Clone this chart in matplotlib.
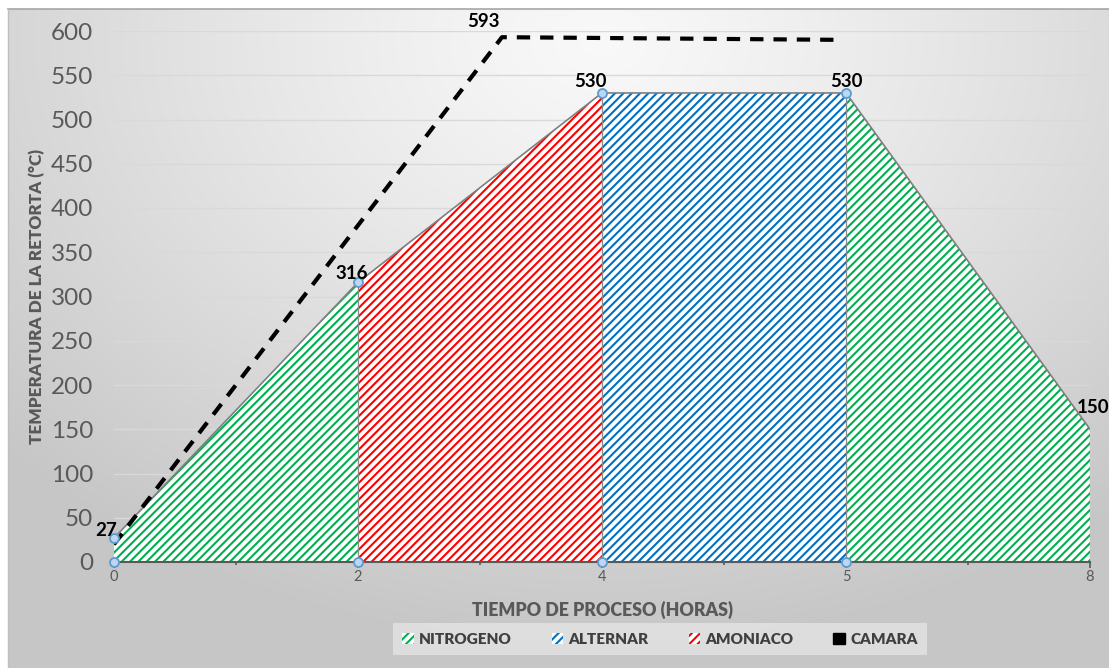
import matplotlib.pyplot as plt
import numpy as np
from matplotlib.patches import Patch

plt.rcParams['font.family'] = ['Lato', 'DejaVu Sans']
plt.rcParams['hatch.linewidth'] = 1.5

# process stages (hours on a category axis) and retort temperature
horas = ['0', '2', '4', '5', '8']
temperatura = [27, 316, 530, 530, 150]
# which stage each interval belongs to
tramos = ['NITROGENO', 'AMONIACO', 'ALTERNAR', 'NITROGENO']
colores = {'NITROGENO': '#00b050', 'ALTERNAR': '#0070c0', 'AMONIACO': '#ff0000'}

# chamber temperature (dashed), positions in category units
camara_pos = [0, 1.59, 2.975]
camara_temp = [20, 593, 590]

W, H = 1109, 668
fig = plt.figure(figsize=(W / 100, H / 100), dpi=100)

# gray radial background of the chart area
bg = fig.add_axes([0, 0, 1, 1])
yy, xx = np.mgrid[0:H, 0:W]
r = np.sqrt(((xx - 600) / 1.0) ** 2 + ((yy - 40) / 0.75) ** 2)
g = np.clip(0.975 - 0.2 * (r / 820) ** 1.2, 0.78, 0.975)
img = np.dstack([g, g, g])
img[:9, :] = 1.0
img[:, :8] = 1.0
bg.imshow(img, extent=[0, W, H, 0], aspect='auto')
bg.plot([8, W], [9, 9], color='#a6a6a6', lw=1.2)
bg.plot([8, 8], [9, H], color='#bfbfbf', lw=1.0)
bg.set_xlim(0, W)
bg.set_ylim(H, 0)
bg.axis('off')

ax = fig.add_axes([114 / W, 1 - 562 / H, (1090 - 114) / W, (562 - 31) / H])
ax.patch.set_alpha(0)
x = np.arange(len(horas))

for y in range(50, 601, 50):
    ax.axhline(y, color='#d9d9d9', lw=1.0, zorder=0)

# hatched areas per stage
for i, nombre in enumerate(tramos):
    ax.fill_between(x[i:i + 2], temperatura[i:i + 2], 0, facecolor='white',
                    edgecolor=colores[nombre], hatch='////', linewidth=0, zorder=2)

# outline of the profile
ax.plot(x, temperatura, color='#7f7f7f', lw=1.2, zorder=3)
for i in range(1, len(horas)):
    ax.plot([x[i], x[i]], [0, temperatura[i]], color='#8c8c8c', lw=0.9, zorder=3)

# chamber
ax.plot(camara_pos, camara_temp, color='black', lw=3, dashes=(3.2, 2.4), zorder=4)

# handles at the points
mk_x = [0, 0, 1, 1, 2, 2, 3, 3]
mk_y = [0, temperatura[0], 0, temperatura[1], 0, temperatura[2], 0, temperatura[3]]
ax.plot(mk_x, mk_y, 'o', ms=6.5, mfc='#bdd7ee', mec='#5b9bd5', mew=1.3, zorder=5, clip_on=False)

# data labels
lbl_off = [(-5.8, 5.8), (-4.3, 6.5), (-8, 8), (0, 8), (2.2, 16)]
for i, v in enumerate(temperatura):
    ax.annotate(str(v), (x[i], v), xytext=lbl_off[i], textcoords='offset points',
                ha='center', va='center', fontsize=13.5, fontweight='bold',
                color='black', zorder=6, annotation_clip=False)
ax.annotate(str(camara_temp[1]), (camara_pos[1], camara_temp[1]), xytext=(-13, 11),
            textcoords='offset points', ha='center', va='center', fontsize=13.5,
            fontweight='bold', color='black', annotation_clip=False)

ax.set_xlim(0, 4)
ax.set_ylim(0, 600)
ax.set_yticks(range(0, 601, 50))
ax.set_xticks(x)
ax.set_xticklabels(horas)
ax.set_xticks(x[:-1] + 0.5, minor=True)
ax.tick_params(axis='y', length=0, labelsize=17.5, labelcolor='#595959', pad=15)
ax.tick_params(axis='x', which='major', length=4, width=1.2, color='#595959',
               labelsize=10.5, labelcolor='#595959', pad=2)
ax.tick_params(axis='x', which='minor', length=4, width=1.2, color='#595959',
               direction='inout')
for s in ['top', 'right', 'left']:
    ax.spines[s].set_visible(False)
ax.spines['bottom'].set_color('#595959')
ax.spines['bottom'].set_linewidth(1.5)
ax.spines['bottom'].set_zorder(4)

ax.set_xlabel('TIEMPO DE PROCESO (HORAS)', fontsize=12.8, fontweight='heavy',
              color='#595959', labelpad=12)
ax.set_ylabel('TEMPERATURA DE LA RETORTA (°C)', fontsize=12.3, fontweight='heavy',
              color='#595959', labelpad=4)

handles = [Patch(facecolor='white', edgecolor=colores[n], hatch='////', lw=0)
           for n in ['NITROGENO', 'ALTERNAR', 'AMONIACO']]
handles.append(Patch(facecolor='black', edgecolor='black'))
leg = fig.legend(handles, ['NITROGENO', 'ALTERNAR', 'AMONIACO', 'CAMARA'],
                 loc='center', bbox_to_anchor=(660 / W, 1 - 639 / H), ncol=4,
                 frameon=True, fancybox=False, handlelength=0.75, handleheight=0.75,
                 handletextpad=0.35, columnspacing=2.6, borderpad=0.65,
                 borderaxespad=0, prop={'size': 11, 'weight': 'heavy'})
leg.get_frame().set_facecolor('#e4e4e4')
leg.get_frame().set_edgecolor('none')
for t in leg.get_texts():
    t.set_color('#404040')

fig.savefig('out.png', dpi=100)
